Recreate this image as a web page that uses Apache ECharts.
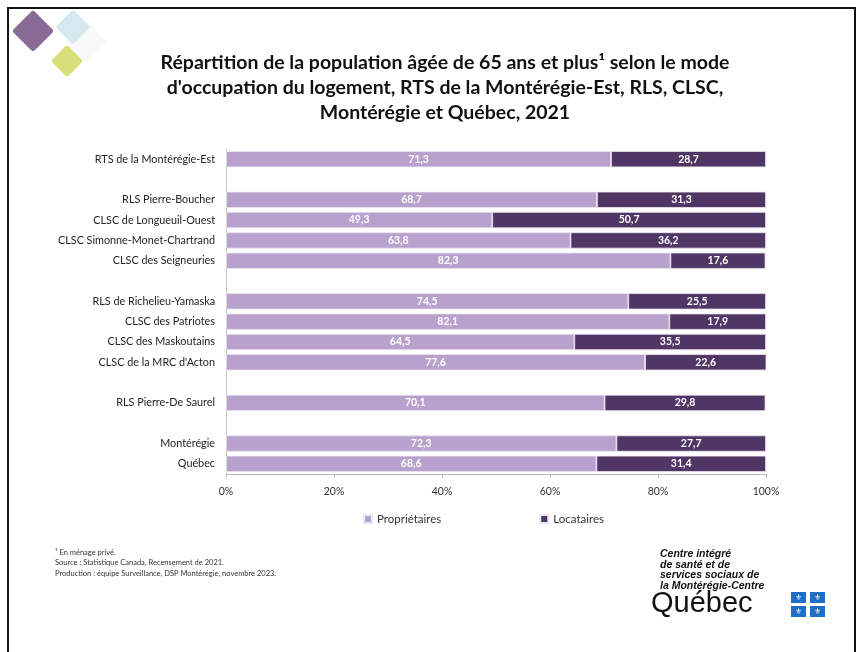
<!DOCTYPE html>
<html><head><meta charset="utf-8">
<script src="https://cdn.jsdelivr.net/npm/echarts@6/dist/echarts.min.js"></script>
<style>html,body{margin:0;padding:0;background:#fff}#c{width:862px;height:652px}</style>
</head><body><div id="c"></div>
<script>
const categories = ["RTS de la Montérégie-Est"," ","RLS Pierre-Boucher","CLSC de Longueuil-Ouest","CLSC Simonne-Monet-Chartrand","CLSC des Seigneuries","  ","RLS de Richelieu-Yamaska","CLSC des Patriotes","CLSC des Maskoutains","CLSC de la MRC d'Acton","   ","RLS Pierre-De Saurel","    ","Montérégie","Québec"];
const proprietaires = [71.3,null,68.7,49.3,63.8,82.3,null,74.5,82.1,64.5,77.6,null,70.1,null,72.3,68.6];
const locataires   = [28.7,null,31.3,50.7,36.2,17.6,null,25.5,17.9,35.5,22.6,null,29.8,null,27.7,31.4];
const xTicks = [0,20,40,60,80,100];
const seriesNames = ["Propriétaires","Locataires"];
const FONT = "Lato, 'Open Sans', sans-serif";
const chart = echarts.init(document.getElementById('c'));
const fmt = p => p.value == null ? '' : String(p.value.toFixed(1)).replace('.', ',');
const lbl = {show:true, position:'inside', color:'#fff', fontWeight:'bold', fontSize:10.5, fontFamily:FONT, formatter:fmt};
function diamond(cx, cy, s, color){
  return {type:'rect', x:cx, y:cy, rotation:Math.PI/4, originX:0, originY:0,
    shape:{x:-s/2, y:-s/2, width:s, height:s, r:3}, style:{fill:color}, z:1};
}
chart.setOption({
  animation:false,
  textStyle:{fontFamily:FONT},
  title:{text:"Répartition de la population âgée de 65 ans et plus¹ selon le mode\nd'occupation du logement, RTS de la Montérégie-Est, RLS, CLSC,\nMontérégie et Québec, 2021",
    left:440, top:45, textAlign:'center',
    textStyle:{fontSize:19.5, fontWeight:'bold', color:'#111', lineHeight:25, fontFamily:FONT}},
  legend:{bottom:122, left:358, itemGap:98, itemWidth:8, itemHeight:8, icon:'rect',
    textStyle:{fontSize:11.5, color:'#333', fontFamily:FONT}, data:seriesNames},
  grid:{left:226, right:96, top:149, bottom:178},
  xAxis:{type:'value', min:0, max:100, interval:20,
    axisLabel:{formatter:v=>v+'%', fontSize:10.5, color:'#333', margin:12, fontFamily:FONT},
    axisLine:{show:true, lineStyle:{color:'#bbb'}}, axisTick:{show:true, length:4, lineStyle:{color:'#bbb'}},
    splitLine:{show:false}},
  yAxis:{type:'category', inverse:true, data:categories,
    axisLabel:{fontSize:10.8, color:'#222', margin:11, fontFamily:FONT},
    axisLine:{show:true, lineStyle:{color:'#ccc'}}, axisTick:{show:false}},
  series:[
    {name:seriesNames[0], type:'bar', stack:'a', data:proprietaires, barCategoryGap:'20%',
     itemStyle:{color:'#b8a1cc', borderColor:'#ece6f1', borderWidth:0.8}, label:lbl},
    {name:seriesNames[1], type:'bar', stack:'a', data:locataires,
     itemStyle:{color:'#4f3665', borderColor:'#ece6f1', borderWidth:0.8}, label:lbl}
  ],
  graphic:[
    {type:'rect', shape:{x:8, y:8, width:847, height:660}, style:{fill:null, stroke:'#111', lineWidth:2}, z:10},
    diamond(86,42,30,'#f8f8f9'),
    diamond(73,27,25,'#d6e9f1'),
    diamond(33,31,30,'#8a6b95'),
    diamond(67,61,23,'#d8df79'),
    {type:'text', left:55, top:547, style:{text:"¹ En ménage privé.\nSource : Statistique Canada, Recensement de 2021.\nProduction : équipe Surveillance, DSP Montérégie, novembre 2023.", fontSize:7.5, lineHeight:10.5, fill:'#333', fontFamily:FONT}},
    {type:'text', left:660, top:549, style:{text:"Centre intégré\nde santé et de\nservices sociaux de\nla Montérégie-Centre", fontSize:10.5, lineHeight:10.5, fontWeight:'bold', fontStyle:'italic', fill:'#111', fontFamily:"'Liberation Sans', Arial, sans-serif"}},
    {type:'text', left:651, top:589, style:{text:"Québec", fontSize:29, fill:'#111', fontFamily:"'Liberation Sans', Arial, sans-serif"}},
    {type:'rect', shape:{x:791, y:592, width:15, height:11}, style:{fill:'#1f6fc6'}},
    {type:'rect', shape:{x:810, y:592, width:15, height:11}, style:{fill:'#1f6fc6'}},
    {type:'rect', shape:{x:791, y:606, width:15, height:11}, style:{fill:'#1f6fc6'}},
    {type:'rect', shape:{x:810, y:606, width:15, height:11}, style:{fill:'#1f6fc6'}},
    {type:'text', x:798.5, y:597.5, style:{text:'⚜', fontSize:8, fill:'#fff', align:'center', verticalAlign:'middle'}},
    {type:'text', x:817.5, y:597.5, style:{text:'⚜', fontSize:8, fill:'#fff', align:'center', verticalAlign:'middle'}},
    {type:'text', x:798.5, y:611.5, style:{text:'⚜', fontSize:8, fill:'#fff', align:'center', verticalAlign:'middle'}},
    {type:'text', x:817.5, y:611.5, style:{text:'⚜', fontSize:8, fill:'#fff', align:'center', verticalAlign:'middle'}}
  ]
});
</script></body></html>
